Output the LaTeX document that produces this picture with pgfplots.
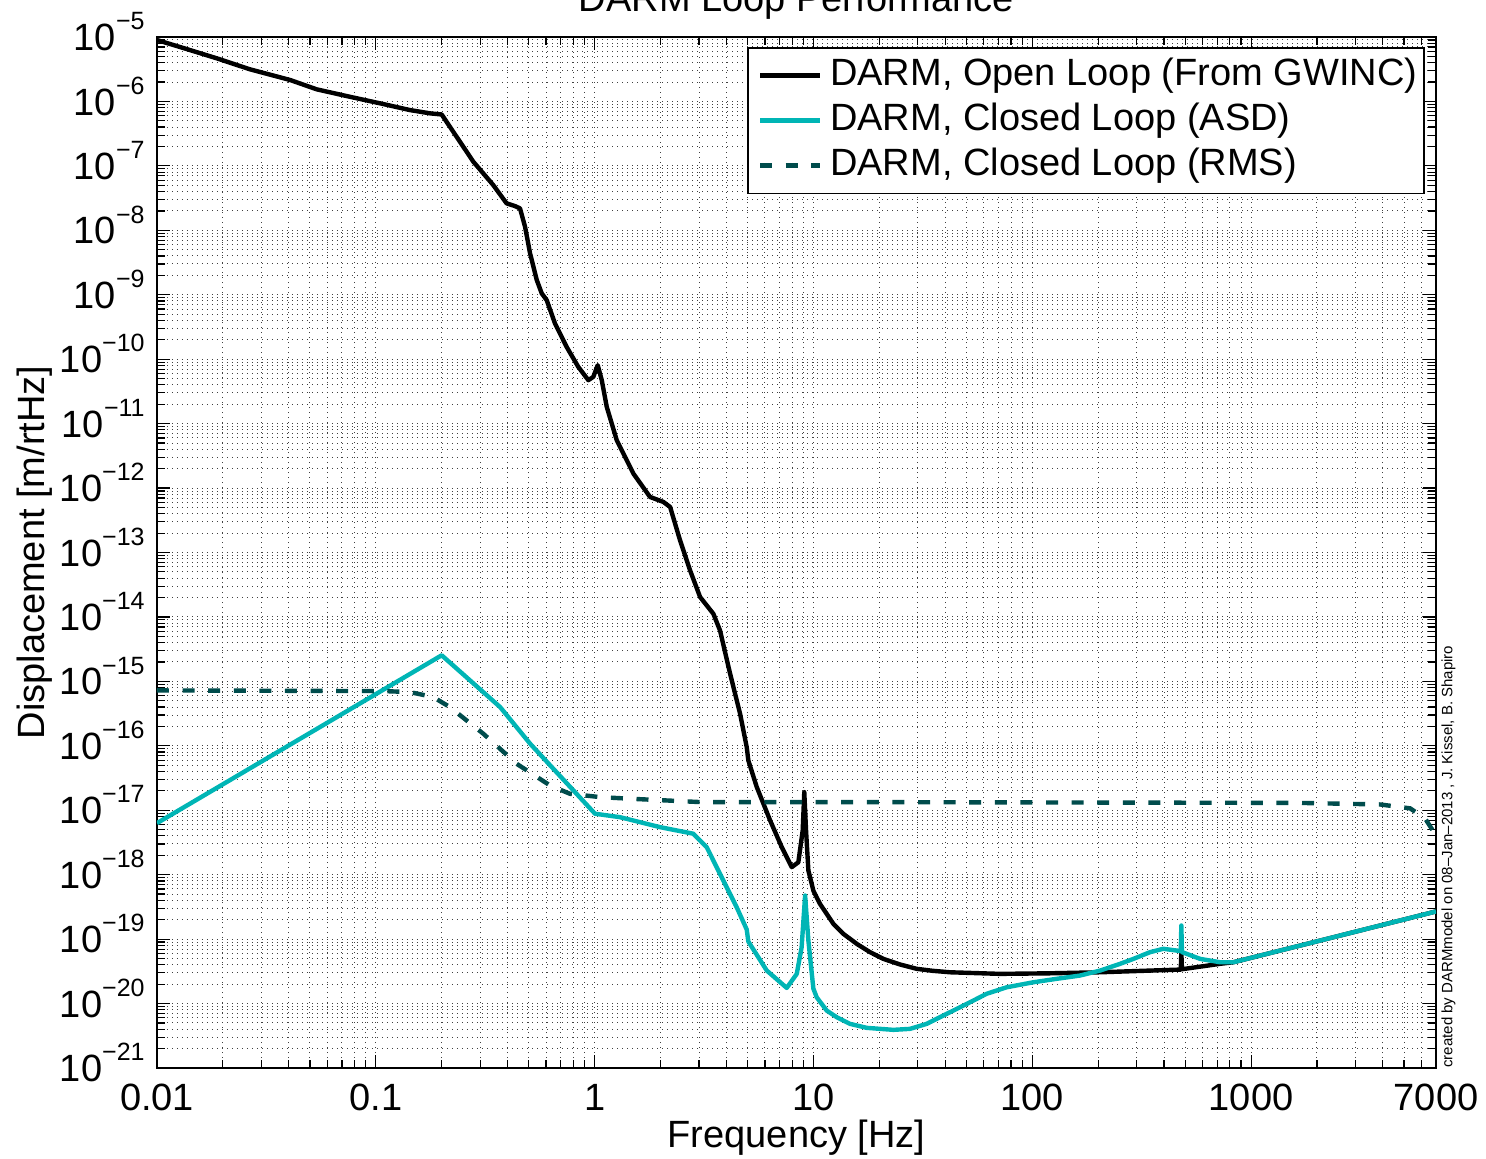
\documentclass[border=0pt]{standalone}
\usepackage{fontspec}
\setmainfont{Liberation Sans}
\usepackage{pgfplots}
\pgfplotsset{compat=1.18}

\definecolor{asdcyan}{rgb}{0.0,0.71,0.71}
\definecolor{rmsteal}{rgb}{0.0,0.30,0.30}

\newcommand{\bigfont}{\fontsize{19}{22}\selectfont}
\newcommand{\tenexp}[1]{10\raisebox{0.55em}{\fontsize{12.5}{13}\selectfont #1}}

\begin{document}
\begin{tikzpicture}
\begin{axis}[
  at={(0,0)}, anchor=south west,
  scale only axis, width=639.5pt, height=515.5pt,
  xmode=log, ymode=log,
  xmin=0.01, xmax=7000, ymin=1e-21, ymax=1e-5,
  xtick={0.01,0.1,1,10,100,1000,7000},
  xticklabels={0.01,0.1,1,10,100,1000,7000},
  minor xtick={0.02,0.03,0.04,0.05,0.06,0.07,0.08,0.09,
               0.2,0.3,0.4,0.5,0.6,0.7,0.8,0.9,
               2,3,4,5,6,7,8,9,
               20,30,40,50,60,70,80,90,
               200,300,400,500,600,700,800,900,
               2000,3000,4000,5000,6000},
  ytick={1e-21,1e-20,1e-19,1e-18,1e-17,1e-16,1e-15,1e-14,1e-13,1e-12,1e-11,1e-10,1e-9,1e-8,1e-7,1e-6,1e-5},
  yticklabels={\tenexp{−21},\tenexp{−20},\tenexp{−19},\tenexp{−18},\tenexp{−17},\tenexp{−16},\tenexp{−15},\tenexp{−14},\tenexp{−13},\tenexp{−12},\tenexp{−11},\tenexp{−10},\tenexp{−9},\tenexp{−8},\tenexp{−7},\tenexp{−6},\tenexp{−5}},
  minor ytick={2e-21,3e-21,4e-21,5e-21,6e-21,7e-21,8e-21,9e-21,
               2e-20,3e-20,4e-20,5e-20,6e-20,7e-20,8e-20,9e-20,
               2e-19,3e-19,4e-19,5e-19,6e-19,7e-19,8e-19,9e-19,
               2e-18,3e-18,4e-18,5e-18,6e-18,7e-18,8e-18,9e-18,
               2e-17,3e-17,4e-17,5e-17,6e-17,7e-17,8e-17,9e-17,
               2e-16,3e-16,4e-16,5e-16,6e-16,7e-16,8e-16,9e-16,
               2e-15,3e-15,4e-15,5e-15,6e-15,7e-15,8e-15,9e-15,
               2e-14,3e-14,4e-14,5e-14,6e-14,7e-14,8e-14,9e-14,
               2e-13,3e-13,4e-13,5e-13,6e-13,7e-13,8e-13,9e-13,
               2e-12,3e-12,4e-12,5e-12,6e-12,7e-12,8e-12,9e-12,
               2e-11,3e-11,4e-11,5e-11,6e-11,7e-11,8e-11,9e-11,
               2e-10,3e-10,4e-10,5e-10,6e-10,7e-10,8e-10,9e-10,
               2e-9,3e-9,4e-9,5e-9,6e-9,7e-9,8e-9,9e-9,
               2e-8,3e-8,4e-8,5e-8,6e-8,7e-8,8e-8,9e-8,
               2e-7,3e-7,4e-7,5e-7,6e-7,7e-7,8e-7,9e-7,
               2e-6,3e-6,4e-6,5e-6,6e-6,7e-6,8e-6,9e-6},
  grid=both,
  major grid style={black!75, line width=0.5pt, dotted},
  minor grid style={black!75, line width=0.5pt, dotted},
  axis line style={black, line width=0.8pt},
  tick style={black, line width=0.6pt},
  major tick length=6.5pt, minor tick length=4pt,
  tick align=inside,
  xticklabel style={font=\bigfont, anchor=base, inner sep=0pt, yshift=-21pt},
  yticklabel style={font=\bigfont, anchor=base east, inner sep=0pt, xshift=-6pt, yshift=-6.8pt},
  legend style={at={(0.9914,0.9903)}, anchor=north east, draw=black, line width=0.8pt,
                fill=white, font=\bigfont, inner xsep=0.5pt, inner ysep=5pt,
                nodes={inner xsep=3pt, inner ysep=0pt, text height=13.8pt, text depth=4pt},
                row sep=4.7pt},
  legend cell align=left,
  legend image code/.code={\path (-4.5pt,0pt) (31pt,0pt);
                           \draw[#1] (0pt,0pt) -- (30pt,0pt);},
]

% open-loop displacement noise
\addplot[black, line width=2.2pt, line join=round] coordinates {
(0.01,8.97e-6) (0.01318,6.75e-6) (0.01874,4.67e-6) (0.0266,3.15e-6)
(0.0406,2.15e-6) (0.0537,1.54e-6) (0.0762,1.18e-6) (0.108,9.12e-7)
(0.143,7.35e-7) (0.177,6.53e-7) (0.2,6.27e-7) (0.234,2.83e-7)
(0.279,1.16e-7) (0.344,5.04e-8) (0.396,2.62e-8) (0.432,2.38e-8)
(0.456,2.19e-8) (0.481,1.13e-8) (0.507,4.38e-9) (0.544,1.69e-9)
(0.573,1.05e-9) (0.604,8.24e-10) (0.659,3.58e-10) (0.745,1.55e-10)
(0.842,7.59e-11) (0.936,4.72e-11) (0.986,5.31e-11) (1.033,8.07e-11)
(1.078,4.72e-11) (1.136,1.82e-11) (1.262,5.52e-12) (1.503,1.68e-12)
(1.791,7.28e-13) (2.061,6.09e-13) (2.213,5.09e-13) (2.456,1.55e-13)
(2.729,5.30e-14) (3.033,2.04e-14) (3.487,1.12e-14) (3.741,6.19e-15)
(4.159,1.32e-15) (4.619,3.16e-16) (4.955,9.54e-17) (5.04,5.93e-17)
(5.507,2.29e-17) (6.339,6.95e-18) (7.168,2.67e-18) (7.96,1.31e-18)
(8.53,1.56e-18) (8.93,4.85e-18) (9.08,1.91e-17) (9.25,4.85e-18)
(9.48,1.16e-18) (10.0,5.6e-19) (10.71,3.53e-19) (12.33,1.73e-19)
(13.69,1.21e-19) (15.77,8.45e-20) (18.15,6.27e-20) (20.86,4.94e-20)
(24.9,4.04e-20) (29.64,3.46e-20) (35.2,3.22e-20) (42.1,3.06e-20)
(71.2,2.89e-20) (120.6,2.95e-20) (204,3.06e-20) (345,3.25e-20)
(477,3.37e-20) (480,6.27e-20) (483,3.41e-20) (721,4.14e-20)
(830,4.38e-20) (2377,1.07e-19) (7000,2.69e-19)
};
\addlegendentry{DARM, Open Loop (From GWINC)}

% closed-loop amplitude spectral density
\addplot[asdcyan, line width=2.2pt, line join=round] coordinates {
(0.01,6.31e-18) (0.2,2.54e-15) (0.370,3.99e-16) (0.507,1.08e-16)
(0.800,2.03e-17) (1.004,8.83e-18) (1.306,7.81e-18) (1.99,5.47e-18)
(2.826,4.32e-18) (3.252,2.67e-18) (3.873,8.13e-19) (4.458,3.13e-19)
(4.955,1.41e-19) (5.04,9.18e-20) (6.12,3.25e-20) (7.55,1.75e-20)
(8.39,2.89e-20) (8.83,7.48e-20) (9.16,4.75e-19) (9.48,9.5e-20)
(9.99,1.71e-20) (10.35,1.25e-20) (11.5,7.78e-21) (12.78,6.14e-21)
(14.7,4.84e-21) (17.52,4.20e-21) (23.2,3.91e-21) (27.6,4.05e-21)
(32.9,4.84e-21) (40.6,6.92e-21) (50.2,9.88e-21) (61.9,1.42e-20)
(76.4,1.79e-20) (101,2.14e-20) (129,2.42e-20) (165,2.72e-20)
(204,3.25e-20) (252,4.14e-20) (290,4.94e-20) (345,6.27e-20)
(397,7.08e-20) (457,6.65e-20) (477,6.5e-20) (480,1.63e-19)
(483,6.3e-20) (585,4.94e-20) (721,4.38e-20) (830,4.38e-20)
(2377,1.07e-19) (7000,2.69e-19)
};
\addlegendentry{DARM, Closed Loop (ASD)}

% closed-loop cumulative RMS
\addplot[rmsteal, line width=2.2pt, dash pattern=on 6pt off 6.8pt] coordinates {
(0.01,7.24e-16) (0.108,7.07e-16) (0.143,6.83e-16) (0.183,5.71e-16)
(0.218,3.99e-16) (0.310,1.54e-16) (0.440,5.27e-17) (0.625,2.43e-17)
(0.772,1.80e-17) (1.058,1.60e-17) (1.452,1.51e-17) (3.033,1.34e-17)
(11.9,1.34e-17) (1675,1.30e-17) (3890,1.23e-17) (5330,1.07e-17)
(6240,7.46e-18) (7000,4.06e-18)
};
\addlegendentry{DARM, Closed Loop (RMS)}
\end{axis}

\node[font=\bigfont, anchor=base] at (319.75pt,528pt) {DARM Loop Performance};
\node[font=\bigfont, anchor=base] at (319.75pt,-40pt) {Frequency [Hz]};
\node[font=\bigfont, anchor=base, rotate=90] at (-56pt,257.75pt) {Displacement [m/rtHz]};
\node[font=\fontsize{7.5}{8}\selectfont, anchor=north west, rotate=90, inner sep=0pt]
  at (642pt,0pt) {created by DARMmodel on 08–Jan–2013 , J. Kissel, B. Shapiro};

\pgfresetboundingbox
\useasboundingbox (-78.5pt,-45.5pt) rectangle (664.5pt,534pt);
\end{tikzpicture}
\end{document}
